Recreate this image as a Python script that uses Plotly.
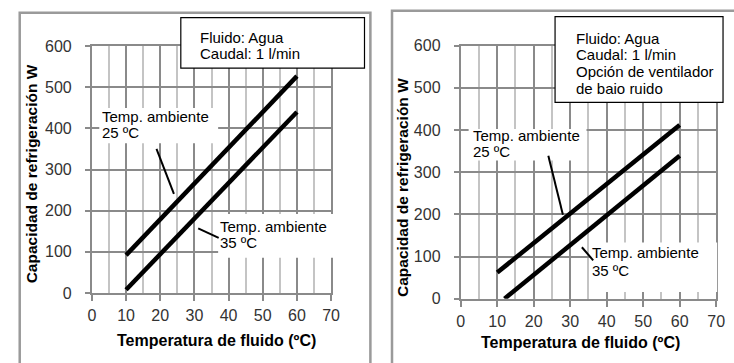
import plotly.graph_objects as go

W, H = 734, 363

# ---------------- data ----------------
x_ticks = [0, 10, 20, 30, 40, 50, 60, 70]
y_ticks = [0, 100, 200, 300, 400, 500, 600]

left_x_25 = [10, 60]
left_y_25 = [92, 527]
left_x_35 = [10, 60]
left_y_35 = [8, 440]

right_x_25 = [10, 60]
right_y_25 = [62, 412]
right_x_35 = [12, 60]
right_y_35 = [0, 339]

info_left = ["Fluido: Agua", "Caudal: 1 l/min"]
info_right = ["Fluido: Agua", "Caudal: 1 l/min", "Opción de ventilador", "de baio ruido"]
lab25 = ["Temp. ambiente", "25 ºC"]
lab35 = ["Temp. ambiente", "35 ºC"]
x_title = "Temperatura de fluido (ºC)"
y_title = "Capacidad de refrigeración W"

# leader lines (data coordinates of each panel)
lead_left_25 = [(18.9, 350), (24.0, 241)]
lead_left_35 = [(31.1, 157), (37.1, 134)]
lead_right_25 = [(24.0, 339), (28.0, 199)]
lead_right_35 = [(33.2, 122), (36.3, 91)]


def px(x):
    return x / W


def py(y):
    return 1 - y / H


FONT = "Liberation Sans, Arial, sans-serif"
MAJ = "#8a8a8a"
MIN = "#c4c4c4"

fig = go.Figure()
line_style = dict(color="black", width=4.5)
fig.add_trace(go.Scatter(x=left_x_25, y=left_y_25, mode="lines", line=line_style, xaxis="x", yaxis="y"))
fig.add_trace(go.Scatter(x=left_x_35, y=left_y_35, mode="lines", line=line_style, xaxis="x", yaxis="y"))
fig.add_trace(go.Scatter(x=right_x_25, y=right_y_25, mode="lines", line=line_style, xaxis="x2", yaxis="y2"))
fig.add_trace(go.Scatter(x=right_x_35, y=right_y_35, mode="lines", line=line_style, xaxis="x2", yaxis="y2"))


def xaxis(domain, anchor):
    return dict(domain=domain, anchor=anchor, range=[0, 70], tickvals=x_ticks,
                showgrid=True, gridcolor=MAJ, gridwidth=2,
                minor=dict(dtick=5, tick0=0, showgrid=True, gridcolor=MIN, gridwidth=2),
                showline=True, mirror=True, linecolor=MAJ, linewidth=2,
                ticks="outside", ticklen=6, tickwidth=2, tickcolor=MAJ,
                zeroline=False, fixedrange=True, ticklabelstandoff=1,
                tickfont=dict(family=FONT, size=16, color="#333333"))


def yaxis(domain, anchor):
    return dict(domain=domain, anchor=anchor, range=[0, 600], tickvals=y_ticks,
                showgrid=True, gridcolor=MAJ, gridwidth=2,
                showline=True, mirror=True, linecolor=MAJ, linewidth=2,
                ticks="outside", ticklen=5, tickwidth=2, tickcolor=MAJ,
                zeroline=False, fixedrange=True, ticklabelstandoff=10,
                tickfont=dict(family=FONT, size=16, color="#333333"))


shapes = []
# outer panel frames
shapes.append(dict(type="rect", xref="paper", yref="paper", x0=px(16), x1=px(373), y0=py(375), y1=py(5),
                   line=dict(color="#9a9a9a", width=2.5), layer="below"))
shapes.append(dict(type="rect", xref="paper", yref="paper", x0=px(395), x1=px(745), y0=py(375), y1=py(3),
                   line=dict(color="#9a9a9a", width=2.5), layer="below"))
# white label backgrounds
for (x0, y0, x1, y1) in [(97, 105, 218, 142), (218, 216, 336, 262), (473, 127, 593, 160), (597, 246, 726, 298)]:
    shapes.append(dict(type="rect", xref="paper", yref="paper", x0=px(x0), x1=px(x1), y0=py(y1), y1=py(y0),
                       fillcolor="white", line=dict(width=0), layer="above"))
# info boxes
shapes.append(dict(type="rect", xref="paper", yref="paper", x0=px(180), x1=px(367), y0=py(63), y1=py(10),
                   fillcolor="white", line=dict(color="black", width=1.2), layer="above"))
shapes.append(dict(type="rect", xref="paper", yref="paper", x0=px(561), x1=px(732), y0=py(99), y1=py(9),
                   fillcolor="white", line=dict(color="black", width=1.2), layer="above"))
# leader lines
for (p0, p1), xr, yr in [(lead_left_25, "x", "y"), (lead_left_35, "x", "y"),
                         (lead_right_25, "x2", "y2"), (lead_right_35, "x2", "y2")]:
    shapes.append(dict(type="line", xref=xr, yref=yr, x0=p0[0], y0=p0[1], x1=p1[0], y1=p1[1],
                       line=dict(color="black", width=2), layer="above"))

ann = []


def text(t, x, y, size=15, bold=False, angle=0, xanchor="left"):
    ann.append(dict(text=("<b>%s</b>" % t) if bold else t, x=px(x), y=py(y), xref="paper", yref="paper",
                    xanchor=xanchor, yanchor="middle", showarrow=False, textangle=angle, borderpad=0,
                    font=dict(family=FONT, size=size, color="black")))


for t, y in zip(info_left, [31, 48]):
    text(t, 199, y)
for t, y in zip(info_right, [32, 49, 67, 84]):
    text(t, 581, y)
for t, y in zip(lab25, [114, 131]):
    text(t, 99, y)
for t, y in zip(lab35, [229, 246]):
    text(t, 219, y)
for t, y in zip(lab25, [134, 151]):
    text(t, 476, y)
for t, y in zip(lab35, [257, 275]):
    text(t, 598, y)

text(x_title, 216, 349, size=16, bold=True, xanchor="center")
text(x_title, 587, 351, size=16, bold=True, xanchor="center")
text(y_title, 28, 174, size=15.5, bold=True, angle=-90, xanchor="center")
text(y_title, 405, 188, size=15.5, bold=True, angle=-90, xanchor="center")

fig.update_layout(
    width=W, height=H, margin=dict(l=0, r=0, t=0, b=0),
    paper_bgcolor="white", plot_bgcolor="white", showlegend=False,
    xaxis=xaxis([px(89.5), px(333)], "y"),
    yaxis=yaxis([py(299), py(40)], "x"),
    xaxis2=xaxis([px(465), px(725)], "y2"),
    yaxis2=yaxis([py(305), py(39.5)], "x2"),
    shapes=shapes, annotations=ann,
)

fig.write_html("out.html", config={"displayModeBar": False},
               post_script="document.body.style.margin='0';document.body.style.padding='0';")
